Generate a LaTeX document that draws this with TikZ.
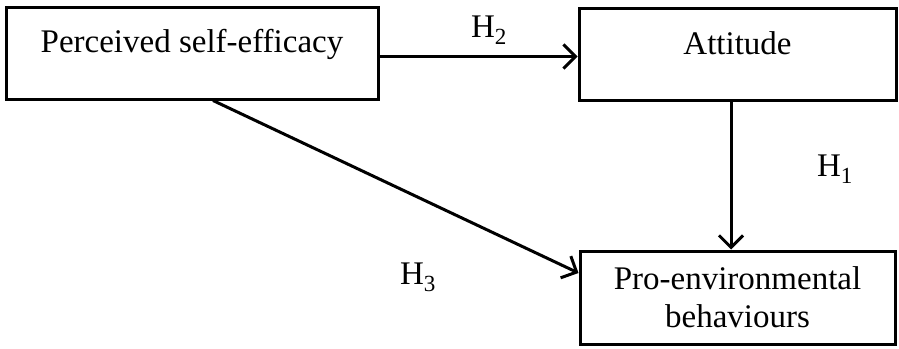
\documentclass[tikz,border=0pt]{standalone}
\usepackage{fontspec}
\setmainfont{Liberation Serif}
\usetikzlibrary{arrows.meta}
\tikzset{
  box/.style={draw, line width=3pt, rectangle, inner sep=0pt, align=center, font=\fontsize{33}{38}\selectfont},
  link/.style={line width=3pt, -{Straight Barb[length=12pt, width=24pt, line width=3pt]}},
  hyp/.style={font=\fontsize{33}{36}\selectfont, inner sep=0pt}
}
\begin{document}
\begin{tikzpicture}[x=1pt, y=-1pt]
  \useasboundingbox (0,0) rectangle (899,348);
  \node[box, minimum width=372pt, text height=45pt, text depth=47pt] (pse) at (192,53) {Perceived self-efficacy};
  \node[box, minimum width=317pt, text height=46pt, text depth=46pt] (att) at (737.5,54) {Attitude};
  \node[box, minimum width=315pt, minimum height=93pt] (peb) at (737.5,297.5) {Pro-environmental\\behaviours};
  \draw[link] ([yshift=-3.5pt]pse.east) -- ([yshift=-3.5pt]pse.east -| att.west);
  \draw[link] ([xshift=-6.5pt]att.south) -- ([xshift=-6.5pt]peb.north);
  \draw[link] ([xshift=21pt]pse.south) -- ([yshift=24.5pt]peb.west);
  \node[hyp] (h2) at (489,30) {H\textsubscript{2}};
  \node[hyp] (h1) at (835,169) {H\textsubscript{1}};
  \node[hyp] (h3) at (418,277) {H\textsubscript{3}};
\end{tikzpicture}
\end{document}
